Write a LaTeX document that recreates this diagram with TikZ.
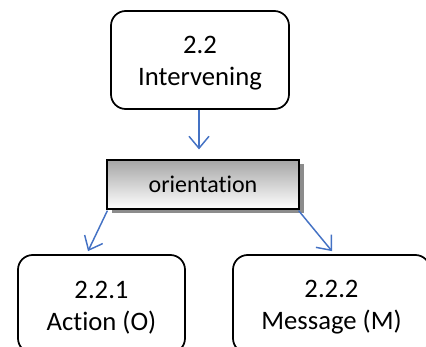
\documentclass[tikz,border=0pt]{standalone}
\usepackage{fontspec}
\setmainfont[Ligatures=NoCommon]{Carlito}
\usetikzlibrary{arrows.meta,shadows}
\definecolor{arrowblue}{RGB}{68,114,196}
\begin{document}
\begin{tikzpicture}[x=0.75pt,y=-0.75pt,
  box/.style={draw=black, line width=1.3pt, rounded corners=11pt, align=center,
    font=\fontsize{20}{24}\selectfont, inner sep=0pt, minimum height=73.5pt},
  orientbox/.style={draw=black, line width=0.9pt, top color=black!35, bottom color=white,
    font=\fontsize{18}{22}\selectfont, inner sep=0pt, minimum width=144pt, minimum height=36.75pt,
    drop shadow={shadow xshift=3.75pt, shadow yshift=-3pt, fill=black!45, opacity=1}},
  conn/.style={draw=arrowblue, line width=1.1pt, -{Straight Barb[length=9pt,width=15pt]}}]
\useasboundingbox (0,0) rectangle (426,347);
\node[box, minimum width=133.5pt] (top) at (200,60) {\rule{0pt}{18pt}2.2\\Intervening};
\node[orientbox] (orient) at (203,184.5) {orientation};
\node[box, minimum width=125.25pt] (left) at (101.5,304) {\rule{0pt}{18pt}2.2.1\\Action (O)};
\node[box, minimum width=147.75pt] (right) at (331.5,304) {\rule{0pt}{18pt}2.2.2\\Message (M)};
\draw[conn, shorten >=7.5pt] ([xshift=-0.75pt]top.south) -- ([xshift=-3pt]orient.north);
\draw[conn] ([shift={(1,1)}]orient.south west) -- ([shift={(-13.5,-3)}]left.north);
\draw[conn] ([shift={(-1,1)}]orient.south east) -- ([shift={(0.5,-3)}]right.north);
\end{tikzpicture}
\end{document}
